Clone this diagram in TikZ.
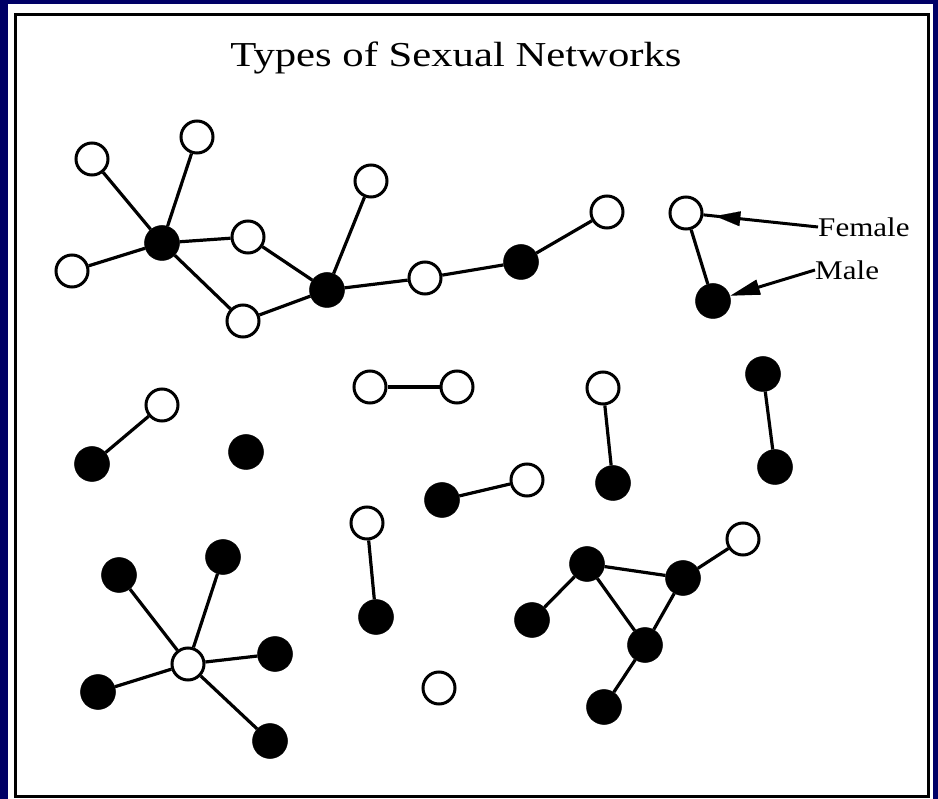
\documentclass[tikz,border=0pt]{standalone}
\usepackage{fontspec}
\setmainfont{Liberation Serif}
\usetikzlibrary{arrows.meta}
\definecolor{navy}{RGB}{0,0,102}
\tikzset{
  fem/.style={circle,draw=black,fill=white,line width=3pt,minimum size=32pt,inner sep=0pt},
  mal/.style={circle,draw=black,fill=black,line width=0.5pt,minimum size=35pt,inner sep=0pt},
  tie/.style={line width=3.2pt,draw=black},
  lbl/.style={font=\fontsize{27}{29}\selectfont,inner sep=0pt,xscale=1.15},
}
\begin{document}
\begin{tikzpicture}[x=1pt,y=-1pt]
\useasboundingbox (0,0) rectangle (938,799);
\fill[navy] (0,0) rectangle (938,799);
\fill[white] (8,4) rectangle (933,799);
\draw[line width=3pt] (15.5,14.5) rectangle (928.5,796.5);
\node[font=\fontsize{35}{38}\selectfont,xscale=1.22,inner sep=0pt,anchor=base] (title) at (456,67) {Types of Sexual Networks};
% top-left network
\node[fem] (a1) at (92,159) {};
\node[fem] (a2) at (197,137) {};
\node[mal] (a3) at (162,243) {};
\node[fem] (a4) at (72,271) {};
\node[fem] (a5) at (248,237) {};
\node[fem] (a6) at (243,321) {};
\node[mal] (a7) at (327,290) {};
\node[fem] (a8) at (371,181) {};
\node[fem] (a9) at (425,278) {};
\node[mal] (a10) at (521,262) {};
\node[fem] (a11) at (607,212) {};
\draw[tie] (a1) -- (a3); \draw[tie] (a2) -- (a3); \draw[tie] (a4) -- (a3);
\draw[tie] (a3) -- (a5); \draw[tie] (a3) -- (a6); \draw[tie] (a5) -- (a7);
\draw[tie] (a6) -- (a7); \draw[tie] (a8) -- (a7); \draw[tie] (a7) -- (a9);
\draw[tie] (a9) -- (a10); \draw[tie] (a10) -- (a11);
% legend
\node[fem] (lw) at (686,213) {};
\node[mal] (lb) at (713,301) {};
\draw[tie] (lw) -- (lb);
\node[lbl,anchor=west] (female) at (818,227) {Female};
\node[lbl,anchor=west] (male) at (815,270) {Male};
\draw[line width=3pt] (female.west) -- (lw);
\draw[line width=0.1pt,-{Triangle[length=25pt,width=15pt]},shorten >=12pt] (female.west) -- (lw);
\draw[line width=3pt,-{Triangle[length=30pt,width=15pt]}] (male.west) -- (lb);
% middle pairs
\node[fem] (b1) at (162,405) {};
\node[mal] (b2) at (92,464) {};
\draw[tie] (b1) -- (b2);
\node[mal] (b3) at (246,452) {};
\node[fem] (c1) at (370,387) {};
\node[fem] (c2) at (457,387) {};
\draw[tie] (c1) -- (c2);
\node[mal] (d1) at (442,500) {};
\node[fem] (d2) at (527,480) {};
\draw[tie] (d1) -- (d2);
\node[fem] (e1) at (603,388) {};
\node[mal] (e2) at (613,483) {};
\draw[tie] (e1) -- (e2);
\node[mal] (f1) at (763,374) {};
\node[mal] (f2) at (775,467) {};
\draw[tie] (f1) -- (f2);
% bottom-left star
\node[mal] (g1) at (119,575) {};
\node[mal] (g2) at (223,557) {};
\node[fem] (g0) at (188,664) {};
\node[mal] (g3) at (275,654) {};
\node[mal] (g4) at (98,692) {};
\node[mal] (g5) at (270,741) {};
\draw[tie] (g1) -- (g0); \draw[tie] (g2) -- (g0); \draw[tie] (g3) -- (g0);
\draw[tie] (g4) -- (g0); \draw[tie] (g5) -- (g0);
% bottom middle
\node[fem] (h1) at (367,523) {};
\node[mal] (h2) at (376,617) {};
\draw[tie] (h1) -- (h2);
\node[fem] (h3) at (439,688) {};
% bottom-right network
\node[mal] (k1) at (587,564) {};
\node[mal] (k2) at (683,578) {};
\node[fem] (k3) at (743,539) {};
\node[mal] (k4) at (532,620) {};
\node[mal] (k5) at (645,645) {};
\node[mal] (k6) at (604,707) {};
\draw[tie] (k1) -- (k2); \draw[tie] (k1) -- (k4); \draw[tie] (k1) -- (k5);
\draw[tie] (k2) -- (k5); \draw[tie] (k2) -- (k3); \draw[tie] (k5) -- (k6);
\end{tikzpicture}
\end{document}
